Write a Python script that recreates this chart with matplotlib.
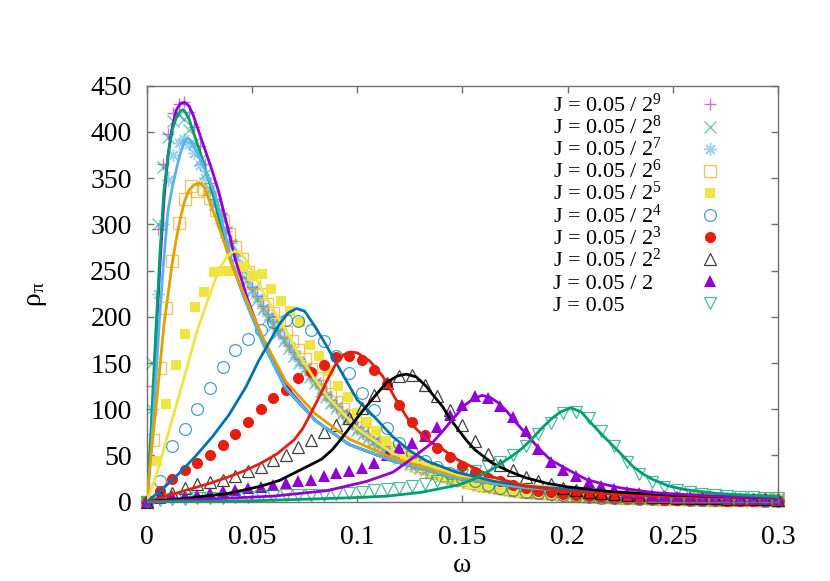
import numpy as np
import matplotlib
matplotlib.use("Agg")
import matplotlib.pyplot as plt

plt.rcParams['font.family'] = ['Liberation Serif', 'DejaVu Serif']
plt.rcParams['mathtext.fontset'] = 'custom'
plt.rcParams['mathtext.rm'] = 'Liberation Serif'
plt.rcParams['mathtext.it'] = 'Liberation Serif:italic'

# ---- simulated points (rho_pi) ----
# J = 0.05/2^9, 0.05/2^8, 0.05/2^7 : omega step 0.0025
pts_9 = [0, 125, 295, 365, 398, 420, 430, 432, 422, 405,
         385, 365, 345, 327, 311, 296, 282, 268, 255, 243,
         232, 222, 212, 203, 195, 186, 178, 170, 162, 154,
         147, 139, 132, 124, 117, 110, 104, 98, 92, 86,
         81, 76, 72, 68, 64, 60, 57, 53, 50, 47,
         44, 41, 38.5, 36, 34, 32, 30, 28, 26.5, 25,
         23.5, 22.5, 21, 19.5, 18.5, 17.5, 16.5, 15.5, 14.5, 13.5,
         13, 12.5, 11.5, 11, 10.5, 10, 9.5, 9, 8.5, 8,
         7.5, 7.5, 7, 7, 6.5, 6, 6, 5.5, 5.5, 5,
         5, 4.5, 4.5, 4, 4, 3.5, 3.5, 3.5, 3, 3,
         3, 3, 2.5, 2.5, 2.5, 2.5, 2, 2, 2, 2,
         2, 2, 2, 1.5, 1.5, 1.5, 1.5, 1.5, 1.5, 1.5,
         1.5]
pts_8 = [0, 150, 300, 362, 394, 412, 418, 414, 402, 388,
         370, 354, 338, 322, 307, 292, 278, 264, 251, 239,
         228, 218, 208, 199, 191, 182, 174, 166, 158, 150,
         143, 135, 128, 120, 113, 107, 101, 95, 89, 83,
         78, 73, 69, 65, 61, 57, 54, 50, 47, 44,
         41, 38.5, 36, 34, 32, 30, 28, 26.5, 25, 23.5,
         22.5, 21.5, 20, 18.5, 17.5, 16.5, 15.5, 14.5, 13.5, 12.5,
         12, 11.5, 10.5, 10, 9.5, 9, 8.5, 8, 7.5, 7.5,
         7, 6.5, 6.5, 6, 5.5, 5.5, 5, 5, 4.5, 4.5,
         4, 4, 3.5, 3.5, 3.5, 3, 3, 3, 2.5, 2.5,
         2.5, 2.5, 2, 2, 2, 2, 2, 1.5, 1.5, 1.5,
         1.5, 1.5, 1.5, 1.5, 1.5, 1, 1, 1, 1, 1,
         1]
pts_7 = [0, 100, 225, 300, 348, 375, 388, 392, 387, 377,
         364, 350, 336, 321, 307, 293, 280, 266, 253, 241,
         230, 220, 210, 201, 193, 184, 176, 168, 160, 152,
         145, 137, 130, 122, 115, 108, 102, 96, 90, 84,
         79, 74, 70, 66, 62, 58, 55, 51, 48, 45,
         42, 39.5, 37, 35, 33, 31, 29, 27, 25.5, 24,
         23, 22, 20.5, 19, 18, 17, 16, 15, 14, 13,
         12.5, 12, 11, 10.5, 10, 9.5, 9, 8.5, 8, 7.5,
         7.5, 7, 7, 6.5, 6, 6, 5.5, 5.5, 5, 5,
         4.5, 4.5, 4, 4, 3.5, 3.5, 3.5, 3, 3, 3,
         3, 2.5, 2.5, 2.5, 2.5, 2, 2, 2, 2, 2,
         2, 2, 1.5, 1.5, 1.5, 1.5, 1.5, 1.5, 1.5, 1.5,
         1.5]
# J = 0.05/2^6 : omega step 0.003
pts_6 = [0, 67, 145, 210, 260, 302, 327, 342, 336, 338,
         328, 315, 304, 290, 276, 262, 249, 237, 225, 214,
         204, 194, 184, 174, 164, 154, 144, 134, 125, 116,
         108, 100, 93, 86, 80, 74, 68, 63, 58, 54,
         50, 46, 42, 39, 36, 33, 31, 29, 27, 25,
         23, 21, 20, 18.5, 17, 16, 15, 14, 13, 12,
         11, 10.5, 10, 9.5, 9, 8.5, 8, 7.5, 7, 6.5,
         6, 6, 5.5, 5, 5, 4.5, 4.5, 4, 4, 3.5,
         3.5, 3, 3, 3, 3, 2.5, 2.5, 2.5, 2.5, 2,
         2, 2, 2, 2, 1.5, 1.5, 1.5, 1.5, 1.5, 1.5,
         1.5]
# J = 0.05/2^5 : 67 points over [0, 0.3]
pts_5 = [0, 44, 106, 148, 181, 211, 227, 248, 250, 250,
         254, 244, 246, 230, 217, 206, 194, 170, 158, 141,
         125, 113, 96, 86, 76, 66, 57, 49, 43, 37,
         32, 28, 25, 22, 19.5, 17.5, 15.5, 14, 12.5, 11,
         10, 9, 8, 7.5, 6.5, 6, 5.5, 5, 4.5, 4,
         3.5, 3.5, 3, 3, 2.5, 2.5, 2, 2, 2, 1.5,
         1.5, 1.5, 1, 1, 1, 1, 1]
# J = 0.05/2^4 ... 0.05 : omega step 0.006
pts_4 = [0, 22, 60, 79, 100, 123, 146, 164, 176, 186,
         194, 197, 195, 186, 174, 158, 139, 118, 99, 80,
         64, 53, 44, 37, 31, 26, 22, 18, 15, 13,
         11, 9, 8, 7, 6, 5, 4.5, 4, 3.5, 3,
         3, 2.5, 2.5, 2, 2, 2, 1.5, 1.5, 1.5, 1,
         1]
pts_3 = [0, 12, 25, 34, 42, 51, 61, 73, 86, 100,
         112, 121, 134, 140, 148, 156, 158, 153, 142, 127,
         105, 86, 72, 58, 48, 39, 32, 26, 22, 18,
         15, 12, 10, 8, 7, 6, 5, 4, 3.5, 3,
         2.5, 2, 2, 1.5, 1.5, 1.5, 1, 1, 1, 1,
         1]
pts_2 = [0, 6.5, 9, 15, 19, 21, 24, 28, 33, 38,
         45, 51, 59, 67, 75, 83, 91, 101, 115, 128,
         136, 137, 126, 114, 99, 83, 66, 52, 40, 34,
         27, 22, 19, 15, 13, 11, 9.5, 8, 7, 6,
         5.5, 5, 4.5, 4, 3.5, 3.5, 3, 3, 2.5, 2.5,
         2]
pts_1 = [0, 4, 5.7, 6.5, 7.6, 9.4, 11.2, 13, 14.5, 16,
         18, 20, 22, 24, 27.5, 30.5, 33, 36.5, 42, 50,
         58, 63, 71, 81, 94, 105, 114, 112, 104, 92,
         76, 57, 43, 34, 28, 21, 17, 13.5, 11, 9,
         7.5, 6.5, 5.5, 5, 4.5, 4, 3.5, 3, 3, 2.5,
         2.5]
pts_0 = [0, 2, 2.5, 3, 3.5, 4, 4.5, 5, 5.5, 6,
         6.5, 7, 7, 7.5, 7.5, 8, 9.4, 11, 12.5, 13.5,
         15, 16.5, 19, 22, 25, 28.5, 33, 38, 43, 50,
         60, 73, 85, 96, 97, 90, 76, 60, 43, 30,
         21.5, 16, 13, 10.5, 8.5, 7, 6, 5.5, 5, 4.5,
         4]

# ---- fitted curves (omega, rho) ----
fw_9 = [0, .002, .004, .006, .008, .010, .012, .014, .016, .018, .020, .022, .025, .028, .031,
        .034, .038, .042, .048, .055, .066, .080, .096, .117, .148, .18, .22, .26, .30]
fr_9 = [0, 70, 160, 250, 325, 375, 405, 424, 431, 432, 428, 418, 398, 378, 358,
        336, 300, 262, 218, 175, 125, 88, 62, 44, 25, 15, 9, 6, 4]
fw_8 = [0, .002, .004, .006, .008, .010, .012, .014, .016, .017, .018, .020, .022, .025, .028,
        .031, .035, .040, .046, .055, .066, .080, .096, .117, .148, .18, .22, .26, .30]
fr_8 = [0, 80, 175, 262, 335, 374, 402, 416, 423, 424, 422, 414, 400, 380, 358,
        336, 300, 260, 222, 172, 122, 88, 62, 44, 25, 15, 9, 6, 4]
fw_7 = [0, .002, .004, .006, .008, .010, .012, .014, .016, .018, .019, .020, .022, .025, .028,
        .032, .036, .040, .046, .055, .066, .080, .096, .117, .148, .18, .22, .26, .30]
fr_7 = [0, 55, 125, 200, 262, 315, 340, 360, 378, 390, 393, 392, 386, 373, 357,
        335, 300, 262, 222, 172, 123, 88, 62, 44, 25, 15, 9, 6, 4]
fw_6 = [0, .0015, .004, .008, .012, .014, .016, .018, .020, .0225, .025, .0275, .030, .033,
        .036, .040, .046, .055, .066, .080, .096, .117, .148, .18, .22, .26, .30]
fr_6 = [0, 42, 95, 190, 258, 285, 308, 326, 337, 343, 345, 340, 323, 305,
        285, 258, 225, 178, 130, 95, 68, 47, 27, 17, 10, 7, 4]
fw_5 = [0, .005, .0115, .018, .024, .030, .034, .038, .040, .042, .044, .047, .050, .055,
        .062, .066, .072, .079, .086, .100, .117, .148, .18, .22, .26, .30]
fr_5 = [0, 33, 85, 137, 186, 225, 250, 265, 269, 271, 270, 262, 250, 228,
        200, 186, 160, 135, 113, 79, 52, 29, 18, 11, 7, 4]
fw_4 = [0, .0075, .015, .023, .031, .039, .047, .053, .058, .063, .067, .071, .075, .080,
        .085, .090, .095, .100, .108, .117, .125, .133, .147, .165, .18, .22, .26, .30]
fr_4 = [0, 14, 30, 49, 70, 94, 124, 152, 172, 192, 204, 209, 206, 189,
        170, 150, 130, 110, 92, 70, 55, 44, 32, 22, 17, 10, 6, 4]
fw_3 = [0, .015, .030, .039, .047, .0545, .062, .070, .074, .078, .082, .0858, .0905, .0935,
        .0967, .100, .106, .112, .118, .125, .133, .141, .148, .164, .18, .20, .23, .26, .30]
fr_3 = [0, 10, 20, 27, 34, 42, 52, 67, 79, 96, 114, 132, 152, 159,
        162, 161, 152, 136, 112, 86, 67, 56, 45, 27, 17, 11, 7, 5, 4]
fw_2 = [0, .02, .039, .0545, .063, .070, .077, .083, .088, .092, .097, .1014, .105, .109,
        .114, .119, .1233, .128, .1327, .1365, .1405, .144, .148, .152, .156, .164, .172,
        .18, .19, .20, .22, .25, .30]
fr_2 = [0, 4, 9, 17, 23, 31, 39, 46, 56, 67, 82, 95, 105, 116,
        129, 136, 138, 135, 125, 114, 103, 90, 78, 66, 56, 42, 33,
        26, 20, 16, 11, 7, 4]
fw_1 = [0, .03, .06, .0858, .1045, .117, .125, .130, .1358, .1405, .1452, .1514, .155, .1593,
        .163, .167, .171, .1749, .1788, .1827, .187, .192, .1975, .2015, .209, .217, .225,
        .24, .256, .275, .30]
fr_1 = [0, 3, 6, 12, 22, 32, 45, 54, 64, 76, 89, 105, 111, 115,
        113, 107, 98, 87, 77, 67, 56, 45, 38, 33, 24, 19, 15,
        10, 7.6, 5.5, 4]
fw_0 = [0, .05, .08, .10, .114, .13, .148, .156, .164, .1733, .178, .1827, .1875, .192,
        .1965, .2015, .2065, .2124, .217, .2218, .2265, .2311, .2358, .2405, .248, .256,
        .2718, .2936, .30]
fr_0 = [0, 1, 3, 4.5, 6, 10, 18, 25, 35, 49, 57, 67, 79, 89,
        97, 101.6, 97, 82, 71, 60, 49, 38, 30, 24, 17, 13,
        8.7, 6, 5.5]

labels = ['J = 0.05 / 2$^{9}$', 'J = 0.05 / 2$^{8}$', 'J = 0.05 / 2$^{7}$',
          'J = 0.05 / 2$^{6}$', 'J = 0.05 / 2$^{5}$', 'J = 0.05 / 2$^{4}$',
          'J = 0.05 / 2$^{3}$', 'J = 0.05 / 2$^{2}$', 'J = 0.05 / 2', 'J = 0.05']

# gnuplot-like point styles
series = [
    (pts_9, fw_9, fr_9, '#9400d3', dict(marker='+', ms=9, mew=1.0, alpha=0.55)),
    (pts_8, fw_8, fr_8, '#009e73', dict(marker='x', ms=8, mew=1.0, alpha=0.55)),
    (pts_7, fw_7, fr_7, '#56b4e9', dict(marker=(8, 2, 0), ms=9, mew=1.0, alpha=0.6)),
    (pts_6, fw_6, fr_6, '#e69f00', dict(marker='s', ms=8, mew=1.0, mfc='none', alpha=0.6)),
    (pts_5, fw_5, fr_5, '#f0e442', dict(marker='s', ms=7.5, mew=0)),
    (pts_4, fw_4, fr_4, '#0072b2', dict(marker='o', ms=8.5, mew=0.9, mfc='none', alpha=0.7)),
    (pts_3, fw_3, fr_3, '#e51e10', dict(marker='o', ms=8, mew=0)),
    (pts_2, fw_2, fr_2, 'black', dict(marker='^', ms=9, mew=0.9, mfc='none', alpha=0.75)),
    (pts_1, fw_1, fr_1, '#9400d3', dict(marker='^', ms=8.5, mew=0)),
    (pts_0, fw_0, fr_0, '#009e73', dict(marker='v', ms=9, mew=0.9, mfc='none', alpha=0.7)),
]

fig = plt.figure(figsize=(8.3, 5.81), dpi=100)
ax = fig.add_axes([0.1771, 0.1365, 0.7602, 0.716])

for i, (pts, fw, fr, col, st) in enumerate(series):
    w = np.linspace(0, 0.3, len(pts))
    ax.plot(w, pts, ls='none', color=col, zorder=2, clip_on=False, **st)
    ax.plot(fw, fr, '-', color=col, lw=2.0, zorder=3)

    # key, gnuplot style: text left, symbol at right
    yk = 0.955 - i * 0.0531
    ax.text(0.643, yk - 0.018, labels[i], transform=ax.transAxes,
            fontsize=16, ha='left', va='baseline')
    ax.plot([0.892], [yk], transform=ax.transAxes, ls='none', color=col,
            clip_on=False, **st)

ax.set_xlim(0, 0.3)
ax.set_ylim(0, 450)
ax.set_xticks([0, 0.05, 0.1, 0.15, 0.2, 0.25, 0.3])
ax.set_xticklabels(['0', '0.05', '0.1', '0.15', '0.2', '0.25', '0.3'])
ax.set_yticks(np.arange(0, 451, 50))

for s in ax.spines.values():
    s.set_color('#707070')
    s.set_linewidth(1.0)
ax.tick_params(direction='in', length=5, width=1.0, color='#707070',
               top=True, right=True, labelsize=20, pad=11)
ax.tick_params(axis='x', pad=17)

ax.set_xlabel('ω', fontsize=20, labelpad=2)
ax.set_ylabel(r'$\mathrm{ρ}_{\mathrm{π}}$', fontsize=20, labelpad=30)

fig.savefig('out.png', dpi=100)
